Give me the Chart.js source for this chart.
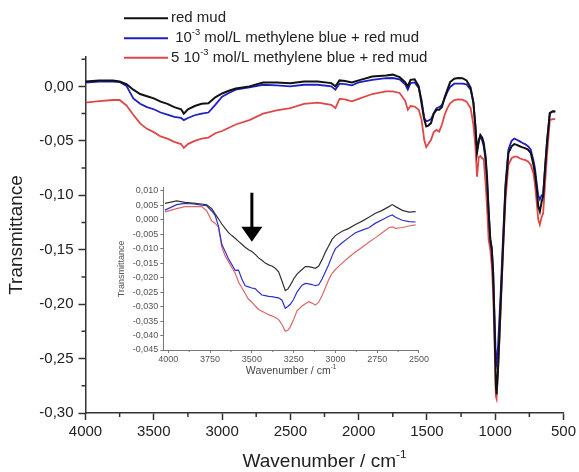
<!DOCTYPE html>
<html>
<head>
<meta charset="utf-8">
<script src="https://cdn.jsdelivr.net/npm/chart.js@4.4.1/dist/chart.umd.min.js"></script>
<style>
  html, body { margin: 0; padding: 0; background: #fff; }
  #wrap { position: relative; width: 579px; height: 472px; }
  #main { position: absolute; left: 0; top: 0; }
  #inset { position: absolute; left: 110px; top: 180px; }
</style>
</head>
<body>
<div id="wrap">
  <canvas id="main" width="579" height="472"></canvas>
  <canvas id="inset" width="320" height="205"></canvas>
</div>
<script>
// full spectra (wavenumber in cm-1, transmittance)
const wn = [4000, 3900, 3800, 3750, 3700, 3650, 3600, 3550, 3500, 3450, 3400, 3350, 3300, 3280, 3250, 3200, 3150, 3100, 3050, 3000,
  2950, 2900, 2800, 2700, 2600, 2500, 2400, 2300, 2200, 2170, 2140, 2100, 2050, 2000, 1900, 1800, 1750, 1700, 1660, 1640,
  1620, 1590, 1560, 1540, 1520, 1505, 1490, 1470, 1450, 1430, 1410, 1390, 1370, 1350, 1330, 1300, 1270, 1240, 1210, 1180,
  1160, 1145, 1133, 1120, 1109, 1095, 1084, 1070, 1060, 1048, 1036, 1025, 1015, 1005, 995, 990, 980, 970, 960, 950,
  940, 925, 903, 880, 860, 842, 820, 800, 782, 760, 740, 720, 709, 695, 685, 673, 660, 649, 635, 620,
  600, 580, 560];
const redMud = [0.0045, 0.0055, 0.0055, 0.0045, 0.002, -0.003, -0.007, -0.009, -0.011, -0.014, -0.016, -0.019, -0.021, -0.025, -0.021, -0.018, -0.016, -0.0155, -0.010, -0.0065,
  -0.004, -0.002, 0.000, 0.0035, 0.0035, 0.003, 0.0045, 0.0045, 0.003, 0.000, 0.0055, 0.005, 0.0037, 0.0055, 0.009, 0.010, 0.0108, 0.0085, 0.004, 0.000,
  0.006, 0.0065, 0.000, -0.015, -0.030, -0.0368, -0.036, -0.0337, -0.025, -0.0215, -0.0215, -0.019, -0.010, -0.003, 0.004, 0.007, 0.0077, 0.0075, 0.0055, -0.001,
  -0.015, -0.037, -0.061, -0.050, -0.0445, -0.047, -0.052, -0.065, -0.083, -0.115, -0.141, -0.150, -0.172, -0.220, -0.275, -0.283, -0.262, -0.232, -0.200, -0.170,
  -0.140, -0.095, -0.061, -0.055, -0.053, -0.0537, -0.055, -0.056, -0.0567, -0.058, -0.061, -0.072, -0.080, -0.095, -0.110, -0.115, -0.106, -0.101, -0.075, -0.050,
  -0.0245, -0.023, -0.023];
const mb1 = [0.0035, 0.0045, 0.0045, 0.004, 0.0005, -0.011, -0.016, -0.019, -0.021, -0.024, -0.026, -0.028, -0.029, -0.031, -0.029, -0.0265, -0.025, -0.024, -0.017, -0.0095,
  -0.006, -0.003, -0.001, 0.0015, 0.001, 0.000, 0.0015, 0.0015, 0.000, -0.003, 0.0025, 0.002, 0.001, 0.0037, 0.006, 0.0075, 0.0077, 0.0065, 0.002, -0.003,
  0.003, 0.0037, -0.0015, -0.012, -0.029, -0.032, -0.0315, -0.030, -0.0245, -0.020, -0.019, -0.017, -0.011, -0.005, -0.0005, 0.0025, 0.0025, 0.0025, 0.0018, -0.003,
  -0.014, -0.036, -0.058, -0.050, -0.046, -0.050, -0.055, -0.068, -0.085, -0.115, -0.140, -0.148, -0.170, -0.210, -0.252, -0.255, -0.240, -0.215, -0.190, -0.160,
  -0.132, -0.090, -0.058, -0.050, -0.048, -0.049, -0.0505, -0.052, -0.053, -0.055, -0.058, -0.068, -0.075, -0.090, -0.100, -0.104, -0.100, -0.0997, -0.075, -0.050,
  -0.0245, -0.023, -0.023];
const mb5 = [-0.015, -0.0135, -0.0125, -0.0125, -0.0175, -0.026, -0.034, -0.039, -0.042, -0.046, -0.048, -0.051, -0.053, -0.0565, -0.053, -0.050, -0.048, -0.047, -0.043, -0.041,
  -0.038, -0.035, -0.031, -0.025, -0.022, -0.020, -0.016, -0.015, -0.017, -0.020, -0.0115, -0.012, -0.0138, -0.0115, -0.007, -0.0045, -0.0045, -0.006, -0.013, -0.0215,
  -0.018, -0.0185, -0.0215, -0.030, -0.049, -0.0558, -0.053, -0.049, -0.042, -0.040, -0.0415, -0.035, -0.026, -0.020, -0.0155, -0.0125, -0.012, -0.0122, -0.014, -0.020,
  -0.035, -0.055, -0.083, -0.065, -0.064, -0.066, -0.067, -0.090, -0.110, -0.141, -0.150, -0.165, -0.190, -0.235, -0.285, -0.287, -0.262, -0.235, -0.205, -0.175,
  -0.145, -0.105, -0.072, -0.066, -0.0645, -0.0645, -0.066, -0.067, -0.0675, -0.069, -0.072, -0.080, -0.090, -0.108, -0.122, -0.127, -0.120, -0.1166, -0.090, -0.062,
  -0.031, -0.030, -0.030];

const xTicks = [4000, 3500, 3000, 2500, 2000, 1500, 1000, 500];
const xMinor = [3750, 3250, 2750, 2250, 1750, 1250, 750];
const yTicks = [0, -0.05, -0.10, -0.15, -0.20, -0.25, -0.30];
const yMinor = [0.025, -0.025, -0.075, -0.125, -0.175, -0.225, -0.275];

// inset: OH stretching region
const insetWn = [4020, 3950, 3900, 3850, 3800, 3770, 3740, 3720, 3700, 3680, 3660, 3640, 3620, 3600, 3580, 3560, 3540, 3520, 3500, 3480,
  3460, 3440, 3420, 3400, 3380, 3360, 3340, 3320, 3300, 3285, 3270, 3250, 3230, 3200, 3180, 3160, 3140, 3120, 3100, 3080,
  3060, 3040, 3020, 3000, 2960, 2920, 2880, 2840, 2800, 2760, 2720, 2680, 2660, 2640, 2600, 2560, 2520];
const insetRedMud = [0.0056, 0.0065, 0.006, 0.0057, 0.0054, 0.0051, 0.0038, 0.002, 0.0003, -0.0015, -0.003, -0.0045, -0.0055, -0.0064, -0.0075, -0.0085, -0.0095, -0.0104, -0.011, -0.012,
  -0.0132, -0.014, -0.015, -0.0156, -0.016, -0.0168, -0.018, -0.0212, -0.0245, -0.024, -0.0226, -0.0205, -0.0188, -0.0172, -0.0162, -0.0162, -0.0165, -0.0168, -0.016, -0.0138,
  -0.0112, -0.009, -0.0068, -0.0055, -0.004, -0.003, -0.0017, -0.0005, 0.0008, 0.0022, 0.0032, 0.0045, 0.0052, 0.0045, 0.0032, 0.0026, 0.0028];
const insetMb1 = [0.0033, 0.0052, 0.0056, 0.0054, 0.005, 0.0048, 0.003, 0.0015, -0.0022, -0.0085, -0.011, -0.0135, -0.0155, -0.0175, -0.0174, -0.0205, -0.0228, -0.0232, -0.0236, -0.0238,
  -0.025, -0.026, -0.0262, -0.0265, -0.0266, -0.0268, -0.027, -0.0278, -0.0306, -0.03, -0.0292, -0.0275, -0.025, -0.0226, -0.022, -0.0222, -0.0224, -0.0228, -0.0225, -0.0205,
  -0.018, -0.0155, -0.0125, -0.01, -0.008, -0.0062, -0.0045, -0.0036, -0.0028, -0.0012, 0.0, 0.0012, 0.0016, 0.0008, -0.0002, -0.0007, -0.0008];
const insetMb5 = [0.0027, 0.0038, 0.0045, 0.0045, 0.0045, 0.003, -0.0005, -0.0012, -0.0026, -0.0095, -0.0125, -0.0145, -0.0165, -0.0185, -0.0215, -0.0235, -0.0255, -0.0275, -0.0285, -0.0298,
  -0.031, -0.0316, -0.0322, -0.0328, -0.0332, -0.0338, -0.0345, -0.0362, -0.0385, -0.0382, -0.037, -0.0345, -0.0315, -0.0298, -0.029, -0.0283, -0.0288, -0.0295, -0.0285, -0.0262,
  -0.0235, -0.0207, -0.0185, -0.0172, -0.015, -0.013, -0.0112, -0.0095, -0.0078, -0.0062, -0.0045, -0.0028, -0.0025, -0.003, -0.0027, -0.0022, -0.0018];

const insetXTicks = [4000, 3750, 3500, 3250, 3000, 2750, 2500];
const insetXMinor = [3875, 3625, 3375, 3125, 2875, 2625];
const insetYTicks = [0.010, 0.005, 0, -0.005, -0.010, -0.015, -0.020, -0.025, -0.030, -0.035, -0.040, -0.045];

// arrow marking the band at 3500 cm-1
const arrowAt = 3500;
const arrowFrom = 0.0093;
const arrowTo = -0.0076;

const seriesNames = ['red mud', '10-3 mol/L methylene blue + red mud', '5 10-3 mol/L methylene blue + red mud'];
const FONT = 'Liberation Sans, Arial, sans-serif';

function pts(xs, ys) {
  return xs.map((x, i) => ({ x: x, y: ys[i] }));
}
function fmt(d) {
  return v => (Math.abs(v) < 1e-9 ? 0 : v).toFixed(d).replace('.', ',');
}

// text with superscripts: parts = [[text, isSup], ...]
function drawRich(ctx, x, y, parts, size, align) {
  ctx.textBaseline = 'middle';
  ctx.textAlign = 'left';
  let total = 0;
  parts.forEach(p => {
    ctx.font = (p[1] ? size * 0.62 : size) + 'px ' + FONT;
    total += ctx.measureText(p[0]).width;
  });
  let cx = align === 'center' ? x - total / 2 : x;
  parts.forEach(p => {
    const s = p[1] ? size * 0.62 : size;
    ctx.font = s + 'px ' + FONT;
    ctx.fillText(p[0], cx, p[1] ? y - size * 0.38 : y);
    cx += ctx.measureText(p[0]).width;
  });
}

function minorTicks(chart, xs, ys, len, color, width) {
  const ctx = chart.ctx;
  const sx = chart.scales.x, sy = chart.scales.y;
  const a = chart.chartArea;
  ctx.save();
  ctx.strokeStyle = color;
  ctx.lineWidth = width;
  ctx.beginPath();
  xs.forEach(v => {
    const px = sx.getPixelForValue(v);
    ctx.moveTo(px, a.bottom);
    ctx.lineTo(px, a.bottom + len);
  });
  ys.forEach(v => {
    const py = sy.getPixelForValue(v);
    ctx.moveTo(a.left, py);
    ctx.lineTo(a.left - len, py);
  });
  ctx.stroke();
  ctx.restore();
}

const colors = ['#111111', '#1f1fc4', '#e04848'];

const mainExtras = {
  id: 'mainExtras',
  afterDraw(chart) {
    const ctx = chart.ctx;
    const a = chart.chartArea;
    minorTicks(chart, xMinor, yMinor, 4, '#333', 1.5);
    ctx.save();
    ctx.fillStyle = '#222';
    drawRich(ctx, (a.left + a.right) / 2, 462, [['Wavenumber / cm', false], ['-1', true]], 19, 'center');
    // legend
    const rows = [18.3, 38.3, 57.7];
    const texts = [
      [['red mud', false]],
      [[' 10', false], ['-3', true], [' mol/L methylene blue + red mud', false]],
      [['5 10', false], ['-3', true], [' mol/L methylene blue + red mud', false]]
    ];
    rows.forEach((y, i) => {
      ctx.strokeStyle = colors[i];
      ctx.lineWidth = 2;
      ctx.beginPath();
      ctx.moveTo(124, y);
      ctx.lineTo(168, y);
      ctx.stroke();
      ctx.fillStyle = '#222';
      drawRich(ctx, 171, y, texts[i], 15, 'left');
    });
    ctx.restore();
  }
};

new Chart(document.getElementById('main'), {
  type: 'line',
  data: {
    datasets: [
      { label: seriesNames[0], data: pts(wn, redMud), borderColor: colors[0], borderWidth: 2 },
      { label: seriesNames[1], data: pts(wn, mb1), borderColor: colors[1], borderWidth: 1.8 },
      { label: seriesNames[2], data: pts(wn, mb5), borderColor: colors[2], borderWidth: 1.8 }
    ]
  },
  options: {
    responsive: false,
    animation: false,
    layout: { padding: { top: 57, right: 12, left: 0, bottom: 0 } },
    elements: { point: { radius: 0 }, line: { tension: 0 } },
    plugins: { legend: { display: false }, tooltip: { enabled: false } },
    scales: {
      x: {
        type: 'linear', reverse: true, min: 500, max: 4000,
        afterBuildTicks: s => { s.ticks = xTicks.map(v => ({ value: v })); },
        afterFit: s => { s.height = 59; },
        grid: { drawOnChartArea: false, tickLength: 7, tickColor: '#333', tickWidth: 1.5 },
        border: { color: '#333', width: 1.5 },
        ticks: { font: { family: FONT, size: 15 }, color: '#222', padding: 3, maxRotation: 0, autoSkip: false, callback: v => String(v) }
      },
      y: {
        type: 'linear', min: -0.30, max: 0.027,
        afterBuildTicks: s => { s.ticks = yTicks.map(v => ({ value: v })); },
        afterFit: s => { s.width = 85.5; },
        grid: { drawOnChartArea: false, tickLength: 7, tickColor: '#333', tickWidth: 1.5 },
        border: { color: '#333', width: 1.5 },
        ticks: { font: { family: FONT, size: 15 }, color: '#222', padding: 5, callback: fmt(2) },
        title: { display: true, text: 'Transmittance', font: { family: FONT, size: 19 }, color: '#222', padding: { top: 5, bottom: 0 } }
      }
    }
  },
  plugins: [mainExtras]
});

const insetColors = ['#333333', '#3030d0', '#e06666'];

const insetExtras = {
  id: 'insetExtras',
  beforeDraw(chart) {
    const ctx = chart.ctx;
    ctx.save();
    ctx.fillStyle = '#fff';
    ctx.fillRect(0, 0, chart.width, chart.height);
    ctx.restore();
  },
  afterDraw(chart) {
    const ctx = chart.ctx;
    const a = chart.chartArea;
    const sx = chart.scales.x, sy = chart.scales.y;
    minorTicks(chart, insetXMinor, [], 2, '#777', 1);
    ctx.save();
    ctx.fillStyle = '#444';
    drawRich(ctx, (a.left + a.right) / 2, 191.5, [['Wavenumber / cm', false], ['-1', true]], 10.5, 'center');
    // arrow
    const px = sx.getPixelForValue(arrowAt);
    const top = sy.getPixelForValue(arrowFrom);
    const tip = sy.getPixelForValue(arrowTo);
    const base = tip - 15;
    ctx.strokeStyle = '#000';
    ctx.fillStyle = '#000';
    ctx.lineWidth = 3;
    ctx.beginPath();
    ctx.moveTo(px, top);
    ctx.lineTo(px, base + 2);
    ctx.stroke();
    ctx.beginPath();
    ctx.moveTo(px - 10.5, base);
    ctx.lineTo(px + 10.5, base);
    ctx.lineTo(px, tip);
    ctx.closePath();
    ctx.fill();
    ctx.restore();
  }
};

new Chart(document.getElementById('inset'), {
  type: 'line',
  data: {
    datasets: [
      { label: seriesNames[0], data: pts(insetWn, insetRedMud), borderColor: insetColors[0], borderWidth: 1.2 },
      { label: seriesNames[1], data: pts(insetWn, insetMb1), borderColor: insetColors[1], borderWidth: 1.2 },
      { label: seriesNames[2], data: pts(insetWn, insetMb5), borderColor: insetColors[2], borderWidth: 1.2 }
    ]
  },
  options: {
    responsive: false,
    animation: false,
    layout: { padding: { top: 7.8, right: 8.3, left: 0, bottom: 0 } },
    elements: { point: { radius: 0 }, line: { tension: 0 } },
    plugins: { legend: { display: false }, tooltip: { enabled: false } },
    scales: {
      x: {
        type: 'linear', reverse: true, min: 2500, max: 4030,
        afterBuildTicks: s => { s.ticks = insetXTicks.map(v => ({ value: v })); },
        afterFit: s => { s.height = 35; },
        grid: { drawOnChartArea: false, tickLength: 3, tickColor: '#777', tickWidth: 1 },
        border: { color: '#777', width: 1 },
        ticks: { font: { family: FONT, size: 9 }, color: '#555', padding: 1, maxRotation: 0, autoSkip: false, callback: v => String(v) }
      },
      y: {
        type: 'linear', min: -0.045, max: 0.011,
        afterBuildTicks: s => { s.ticks = insetYTicks.map(v => ({ value: v })); },
        afterFit: s => { s.width = 53.3; },
        grid: { drawOnChartArea: false, tickLength: 3, tickColor: '#777', tickWidth: 1 },
        border: { color: '#777', width: 1 },
        ticks: { font: { family: FONT, size: 9 }, color: '#555', padding: 2, callback: fmt(3) },
        title: { display: true, text: 'Transmittance', font: { family: FONT, size: 9 }, color: '#555', padding: { top: 6, bottom: 0 } }
      }
    }
  },
  plugins: [insetExtras]
});
</script>
</body>
</html>
